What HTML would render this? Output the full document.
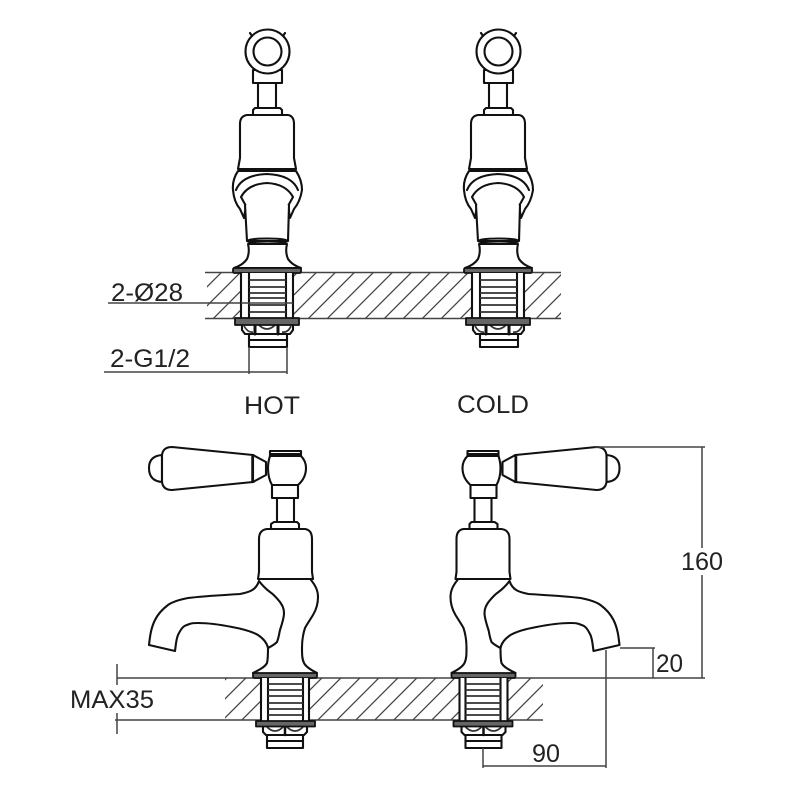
<!DOCTYPE html>
<html>
<head>
<meta charset="utf-8">
<style>
html,body{margin:0;padding:0;background:#fff}
svg{display:block;filter:blur(0.3px)}
text{font-family:"Liberation Sans",sans-serif;fill:#222;font-size:25px}
.k{fill:none;stroke:#111;stroke-width:2.100;stroke-linejoin:round;stroke-linecap:round}
.w{fill:#fff;stroke:#111;stroke-width:2.100;stroke-linejoin:round}
.t{fill:none;stroke:#333;stroke-width:1.700}
.g{fill:#666;stroke:#111;stroke-width:1.800;stroke-linejoin:round}
.d{fill:none;stroke:#444;stroke-width:1.500}
</style>
</head>
<body>
<svg width="800" height="800" viewBox="0 0 800 800" xmlns="http://www.w3.org/2000/svg">
<defs>
<pattern id="h" patternUnits="userSpaceOnUse" width="13.435" height="18" patternTransform="translate(220 273) rotate(45)">
<line x1="0" y1="0" x2="0" y2="18" stroke="#333" stroke-width="2.300"/>
</pattern>
<pattern id="h2" patternUnits="userSpaceOnUse" width="13.435" height="18" patternTransform="translate(245 678) rotate(45)">
<line x1="0" y1="0" x2="0" y2="18" stroke="#333" stroke-width="2.300"/>
</pattern>
<g id="top">
<path class="w" d="M253 70V83H282V70Z"/>
<path class="w" d="M258 83V108H276V83Z"/>
<path class="w" d="M253 115V110L255 108H280L282 110V115Z"/>
<circle class="w" cx="267.500" cy="51.500" r="22"/>
<circle class="k" cx="267.500" cy="51.500" r="14"/>
<path class="k" d="M250 33l2 3M285 33l-2 3"/>
<path class="w" d="M247 115H288Q294 116 294 124V158L296 169H238L240 158V124Q240 116 247 115Z"/>
<path class="w" d="M238 171Q232 180 233 190Q234 202 240 209L244 218L246 205L288 205L290 218L294 209Q300 202 302 190Q302 180 296 171Z"/>
<path class="k" d="M236 190Q242 175 267 174Q292 175 298 190"/>
<path class="w" d="M241 197Q248 184 267 183Q286 184 293 197L288 206H246Z"/>
<path class="w" d="M245 205L247 241H288L289 205"/>
<ellipse class="k" cx="267.500" cy="241" rx="20" ry="2.500"/>
<path class="w" d="M248 244Q250 252 247 259Q243 265 234 268H301Q292 265 288 259Q285 252 287 244Z"/>
<rect class="g" x="233" y="268" width="68" height="5" rx="1.500"/>
</g>
<g id="topbase">
<rect x="241" y="273" width="52" height="45" fill="#fff"/>
<path class="k" d="M241 273V318M249 273V318M286 273V318M293 273V318"/>
<path class="t" d="M249 280H286M249 287H286M249 293H286M249 298H286M249 305H286M249 312H286"/>
<path class="w" d="M242 324V330L245 334H290L293 330V324Z"/>
<path class="k" d="M255 324V334M278 324V334" style="stroke-width:3"/>
<path class="t" d="M258 324Q267 334 276 324M244 326Q248 333 253 332M282 332Q288 333 291 326"/>
<rect class="g" x="235" y="318" width="64" height="7"/>
<path class="k" d="M249 334V347H287V334M249 340H287"/>
</g>
<g id="tap">
<path class="w" d="M162 455Q149 456 149 468Q149 481 162 482Z"/>
<path class="w" d="M253 455L172 447Q163 447 162 455V482Q163 490 172 490L253 482Z"/>
<path class="k" d="M252 455V482M254 455V482" style="stroke-width:1.500"/>
<path class="w" d="M253 455L266 462V475L253 482Z"/>
<path class="w" d="M270 451H301V457H270Z"/>
<path class="k" d="M271 454H300"/>
<path class="w" d="M270 456Q268 462 268 468Q268 478 272 485H298Q306 478 306 468Q306 461 301 456Z"/>
<path class="w" d="M272 485V498H298V485Z"/>
<path class="w" d="M277 498V522H294V498Z"/>
<path class="w" d="M271 529V524L274 522H297L299 524V529Z"/>
<path class="w" d="M267 529H305Q312 530 312 539V572L313 579H258L259 572V539Q259 530 267 529Z"/>
<path class="w" d="M259 581C256 590 250 592 240 594C225 595 205 596 188 598C178 600 172 602 168 605C160 611 157 616 155 620C151 628 150 636 149 645L175 651C176 644 176 640 178 635C181 629 183 626 187 625C191 623 194 623 198 623C210 623 222 625 232 627C243 629 251 631 258 635C264 639 267 643 268 648C272 646 275 644 277 642C279 637 279 634 280 630C282 624 284 618 284 613C284 608 282 605 280 602C276 597 273 594 270 592C266 589 262 585 259 581Z"/>
<path class="k" d="M311 580C315 585 318 590 318 597C318 605 316 610 313 615C310 620 307 624 305 628C303 634 302 640 302 648C302 654 302 659 304 663C306 667 311 670 317 673"/>
<path class="k" d="M268 648C268 654 268 659 267 663C265 667 259 670 253 673"/>
<rect class="g" x="253" y="673" width="64" height="5" rx="1.500"/>
<rect x="261" y="678" width="48" height="43" fill="#fff"/>
<path class="k" d="M261 678V721M268 678V721M303 678V721M309 678V721"/>
<path class="t" d="M268 684H303M268 690H303M268 696H303M268 703H303M268 709H303M268 715H303"/>
<path class="w" d="M263 726V732L266 735H304L307 732V726Z"/>
<path class="k" d="M285 726V735" style="stroke-width:2.500"/>
<path class="t" d="M267 727Q275 735 283 727M287 727Q295 735 303 727"/>
<rect class="g" x="256" y="721" width="59" height="5.500"/>
<path class="k" d="M267 735V748H303V735M267 741H303"/>
</g>
</defs>

<!-- top deck -->
<rect x="207" y="273" width="354" height="45" fill="url(#h)"/>
<path class="d" d="M205 272.500H561M205 318.500H561"/>
<path class="d" d="M108 303H293"/>
<use href="#top"/>
<use href="#topbase"/>
<path class="d" d="M241 303H293"/>
<use href="#top" x="231"/>
<use href="#topbase" x="231"/>
<path class="d" d="M104 372H287M249 347V374M287 347V374"/>

<!-- bottom deck -->
<rect x="225" y="678" width="318" height="42" fill="url(#h2)"/>
<path class="d" d="M117 678H705M115 720H543M117 664V685M117 713V734"/>
<use href="#tap"/>
<use href="#tap" transform="translate(768.500 0) scale(-1 1)"/>

<!-- dimensions -->
<path class="d" d="M595 447H705M702 447V548M702 575V678"/>
<path class="d" d="M620 648H655M653 648V678"/>
<path class="d" d="M606 650V768M483 748V768M483 766H606"/>

<text x="244" y="414" textLength="56" lengthAdjust="spacingAndGlyphs">HOT</text>
<text x="457" y="413" textLength="72" lengthAdjust="spacingAndGlyphs">COLD</text>
<text x="111" y="301" textLength="72" lengthAdjust="spacingAndGlyphs">2-Ø28</text>
<text x="110" y="367" textLength="80" lengthAdjust="spacingAndGlyphs">2-G1/2</text>
<text x="70" y="708" textLength="84" lengthAdjust="spacingAndGlyphs">MAX35</text>
<text x="681" y="570" textLength="42" lengthAdjust="spacingAndGlyphs">160</text>
<text x="656" y="672" textLength="27" lengthAdjust="spacingAndGlyphs">20</text>
<text x="532" y="762" textLength="28" lengthAdjust="spacingAndGlyphs">90</text>
</svg>
</body>
</html>
